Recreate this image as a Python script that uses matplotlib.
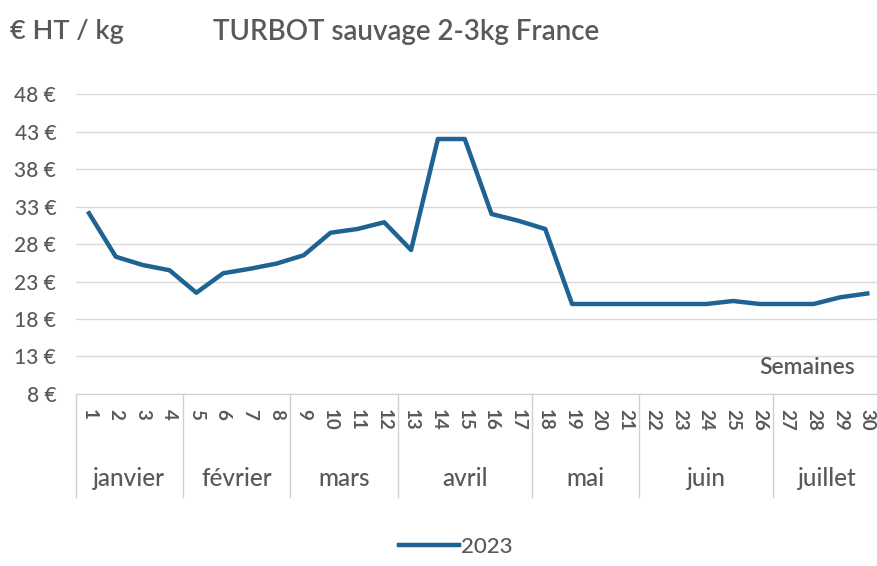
import matplotlib.pyplot as plt

semaines = list(range(1, 31))
prix_2023 = [32.1, 26.3, 25.2, 24.5, 21.5, 24.1, 24.7, 25.4, 26.5, 29.5,
             30.0, 30.9, 27.2, 42.0, 42.0, 32.0, 31.1, 30.0, 20.0, 20.0,
             20.0, 20.0, 20.0, 20.0, 20.4, 20.0, 20.0, 20.0, 20.9, 21.4]
mois = ['janvier', 'février', 'mars', 'avril', 'mai', 'juin', 'juillet']
semaines_par_mois = [4, 4, 4, 5, 4, 5, 4]
y_ticks = [8, 13, 18, 23, 28, 33, 38, 43, 48]

GRIS = '#595959'
BLEU = '#1f6392'


def plot_turbot():
    plt.rcParams['font.family'] = ['Lato', 'DejaVu Sans']
    plt.rcParams['font.weight'] = 'medium'
    fig = plt.figure(figsize=(8.77, 5.66), dpi=100)
    ax = fig.add_axes([0.0862, 0.3039, 0.918, 0.530])

    ax.plot(semaines, prix_2023, color=BLEU, linewidth=3.2, label='2023',
            solid_joinstyle='round', zorder=3)

    ax.set_xlim(0.5, 30.5)
    ax.set_ylim(8, 48)
    ax.set_yticks(y_ticks)
    ax.set_yticklabels([f'{v} €' for v in y_ticks])
    ax.yaxis.grid(True, color='#d9d9d9', linewidth=1)
    ax.set_axisbelow(True)
    for s in ['top', 'right', 'left']:
        ax.spines[s].set_visible(False)
    ax.spines['bottom'].set_color('#d0d0d0')
    ax.tick_params(axis='y', length=0, pad=14, labelsize=15, labelcolor=GRIS)
    ax.set_xticks([])

    # numéros de semaine
    trans = ax.get_xaxis_transform()
    for s in semaines:
        ax.text(s, -0.05, str(s), transform=trans, rotation=-90,
                ha='center', va='top', fontsize=13.5, color=GRIS,
                fontweight='bold')

    # mois + séparateurs
    debut = 0.5
    ax.plot([debut, debut], [0, -0.343], transform=trans, color='#d0d0d0',
            linewidth=1, clip_on=False)
    for nom, n in zip(mois, semaines_par_mois):
        fin = debut + n
        ax.plot([fin, fin], [0, -0.343], transform=trans, color='#d0d0d0',
                linewidth=1, clip_on=False)
        ax.text((debut + fin) / 2, -0.283, nom, transform=trans,
                ha='center', va='center', fontsize=17.5, color=GRIS)
        debut = fin

    fig.text(0.011, 0.944, '€ HT / kg', fontsize=19.5, color=GRIS,
             ha='left', va='center', fontweight='semibold')
    fig.text(0.243, 0.944, 'TURBOT sauvage 2-3kg France', fontsize=20,
             color=GRIS, ha='left', va='center', fontweight='semibold')
    fig.text(0.975, 0.350, 'Semaines', fontsize=16.5, color=GRIS,
             ha='right', va='center', fontweight='semibold')

    fig.legend(loc='center', bbox_to_anchor=(0.52, 0.034), frameon=False,
               fontsize=16, handlelength=2.7, handletextpad=0.1,
               labelcolor=GRIS)

    fig.savefig('out.png', dpi=100)


def main():
    plot_turbot()


if __name__ == "__main__":
    main()
